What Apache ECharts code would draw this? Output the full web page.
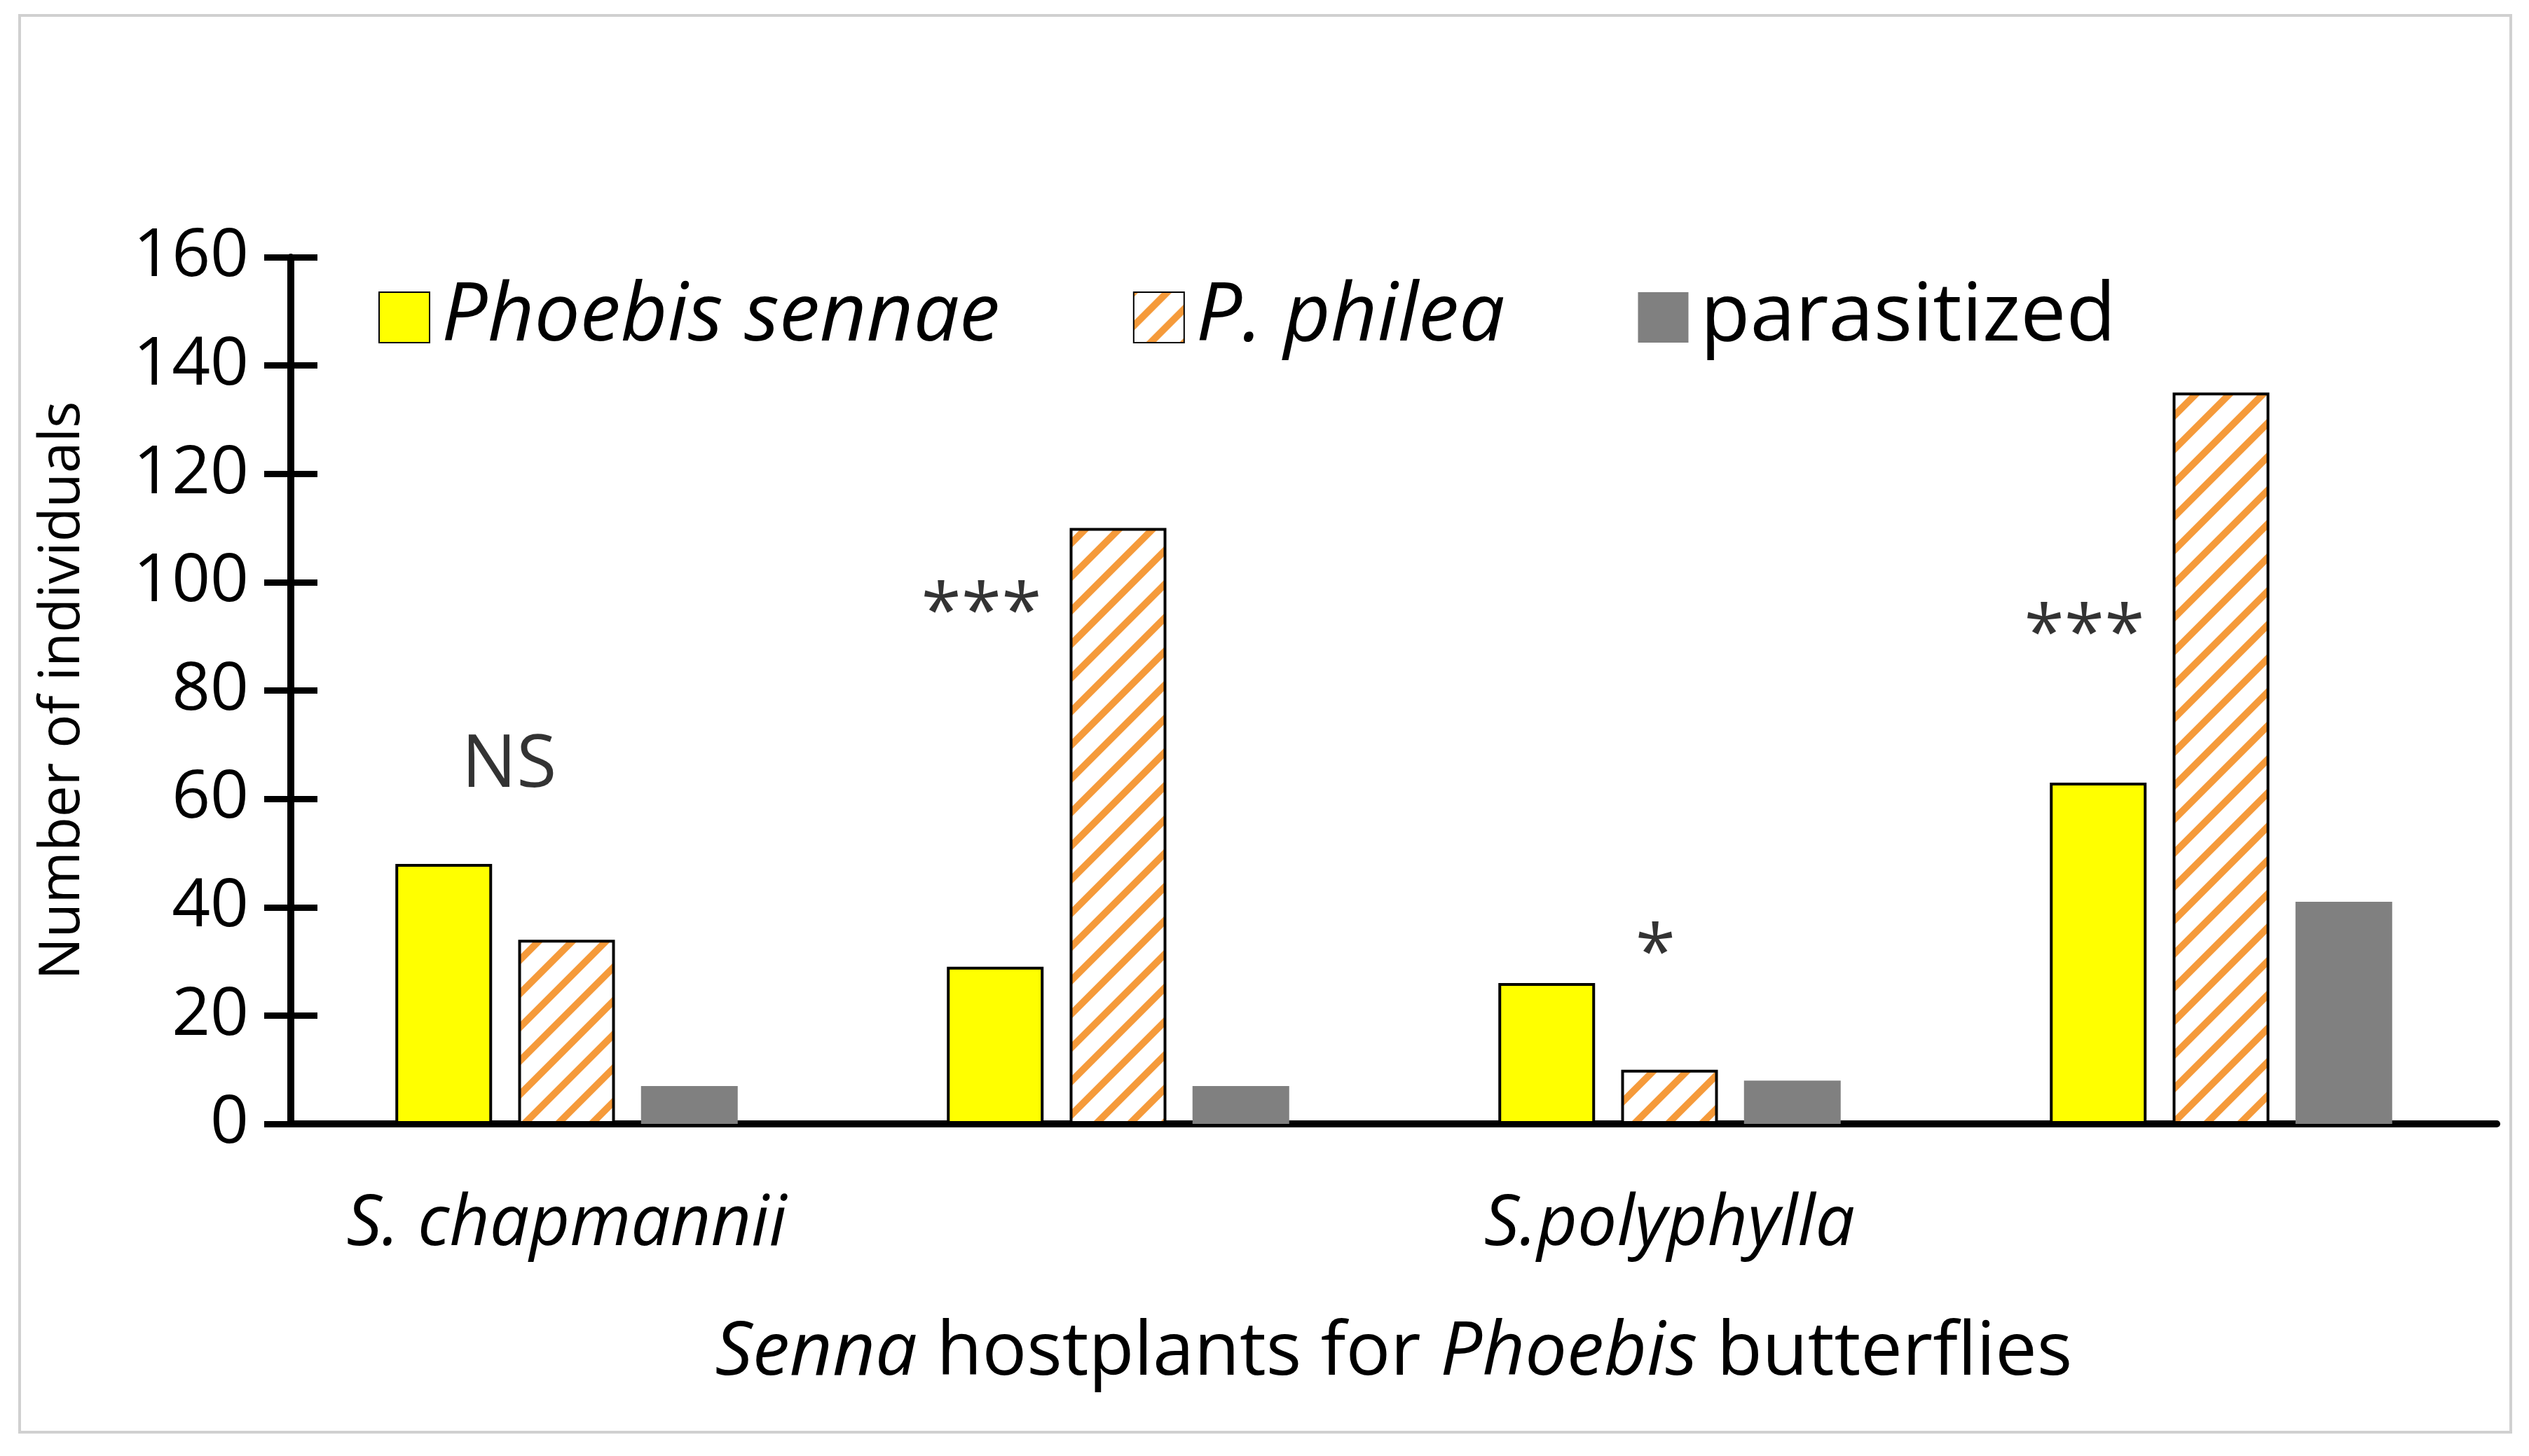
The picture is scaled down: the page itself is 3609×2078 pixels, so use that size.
<!DOCTYPE html>
<html>
<head>
<meta charset="utf-8">
<script src="https://cdn.jsdelivr.net/npm/echarts@6/dist/echarts.min.js"></script>
<style>html,body{margin:0;background:#fff}#c{width:3609px;height:2078px}</style>
</head>
<body>
<div id="c"></div>
<script>
// data
const categories = ['S. chapmannii', 'S. ligustrina', 'S.polyphylla', 'S. surattensis'];
const sennae = [48, 29, 26, 63];
const philea = [34, 110, 10, 135];
const parasitized = [7, 7, 8, 41];
const signif = ['NS', '***', '*', '***'];
const signifY = [66, 94, 31, 90];
const signifDx = [-82, -195, -20, -195];
const yTicks = [0, 20, 40, 60, 80, 100, 120, 140, 160];

const FONT = 'Open Sans';

// diagonal hatch, drawn as filled polygons so the tile seams line up
function hatch() {
  const s = 48, w = 14, cv = document.createElement('canvas');
  cv.width = s; cv.height = s;
  const g = cv.getContext('2d');
  g.fillStyle = '#fff'; g.fillRect(0, 0, s, s);
  g.fillStyle = '#F59A3A';
  [-s, 0, s].forEach(function (o) {
    g.beginPath();
    g.moveTo(o - w / 2, s); g.lineTo(o + s - w / 2, 0);
    g.lineTo(o + s + w / 2, 0); g.lineTo(o + w / 2, s);
    g.closePath(); g.fill();
  });
  return cv;
}
const hatchColor = { image: hatch(), repeat: 'repeat' };

const chart = echarts.init(document.getElementById('c'));
chart.setOption({
  animation: false,
  textStyle: { fontFamily: FONT },
  graphic: [{
    type: 'rect', shape: { x: 28, y: 22, width: 3555, height: 2022 },
    style: { fill: 'none', stroke: '#d0d0d0', lineWidth: 4 }
  }],
  grid: { left: 415, right: 46, top: 367, bottom: 474 },
  legend: {
    left: 535, top: 390, itemWidth: 72, itemHeight: 72, itemGap: 190, icon: 'rect',
    textStyle: { fontSize: 116, fontFamily: FONT, color: '#000', padding: [0, 0, 0, 12] },
    data: [
      { name: 'Phoebis sennae', textStyle: { fontStyle: 'italic' } },
      { name: 'P. philea', textStyle: { fontStyle: 'italic' } },
      { name: 'parasitized' }
    ]
  },
  xAxis: {
    type: 'category', data: categories,
    axisLine: { lineStyle: { color: '#000', width: 10 } },
    axisTick: { show: false },
    axisLabel: { fontSize: 100, fontStyle: 'italic', color: '#000', margin: 95, fontFamily: FONT },
    name: '{i|Senna} hostplants for {i|Phoebis} butterflies',
    nameLocation: 'middle', nameGap: 275,
    nameTextStyle: {
      fontSize: 106, color: '#000', fontFamily: FONT,
      rich: { i: { fontSize: 106, fontStyle: 'italic', fontFamily: FONT, color: '#000' } }
    }
  },
  yAxis: [{
    type: 'value', min: 0, max: 160, interval: 20,
    splitLine: { show: false },
    axisLine: { show: true, lineStyle: { color: '#000', width: 10 } },
    axisTick: { show: true, length: 38, lineStyle: { color: '#000', width: 9 } },
    axisLabel: { fontSize: 96, color: '#000', margin: 60, fontFamily: FONT,
      formatter: function (v) { return yTicks.indexOf(v) >= 0 ? String(v) : ''; } },
    name: 'Number of individuals', nameLocation: 'middle', nameGap: 285,
    nameTextStyle: { fontSize: 80, color: '#000', fontFamily: FONT }
  }, {
    type: 'value', min: 0, max: 160, interval: 20, position: 'left',
    splitLine: { show: false },
    axisLine: { show: false },
    axisTick: { show: true, inside: true, length: 38, lineStyle: { color: '#000', width: 9 } },
    axisLabel: { show: false }
  }],
  series: [{
    name: 'Phoebis sennae', type: 'bar', data: sennae, barWidth: 138, barGap: '27%',
    itemStyle: { color: '#FFFF00', borderColor: '#000', borderWidth: 4 }
  }, {
    name: 'P. philea', type: 'bar', data: philea, barWidth: 138, barGap: '27%',
    itemStyle: { color: hatchColor, borderColor: '#000', borderWidth: 4 }
  }, {
    name: 'parasitized', type: 'bar', data: parasitized, barWidth: 138, barGap: '27%',
    itemStyle: { color: '#808080' }
  }, {
    type: 'scatter', symbolSize: 0, silent: true, z: 10,
    label: { show: true, color: '#000' },
    data: categories.map(function (c, i) {
      return {
        value: [c, signifY[i]],
        label: {
          show: true, formatter: signif[i], offset: [signifDx[i], 0],
          fontSize: 104, color: '#000', fontFamily: FONT,
          textBorderWidth: 0
        }
      };
    })
  }]
});
</script>
</body>
</html>
